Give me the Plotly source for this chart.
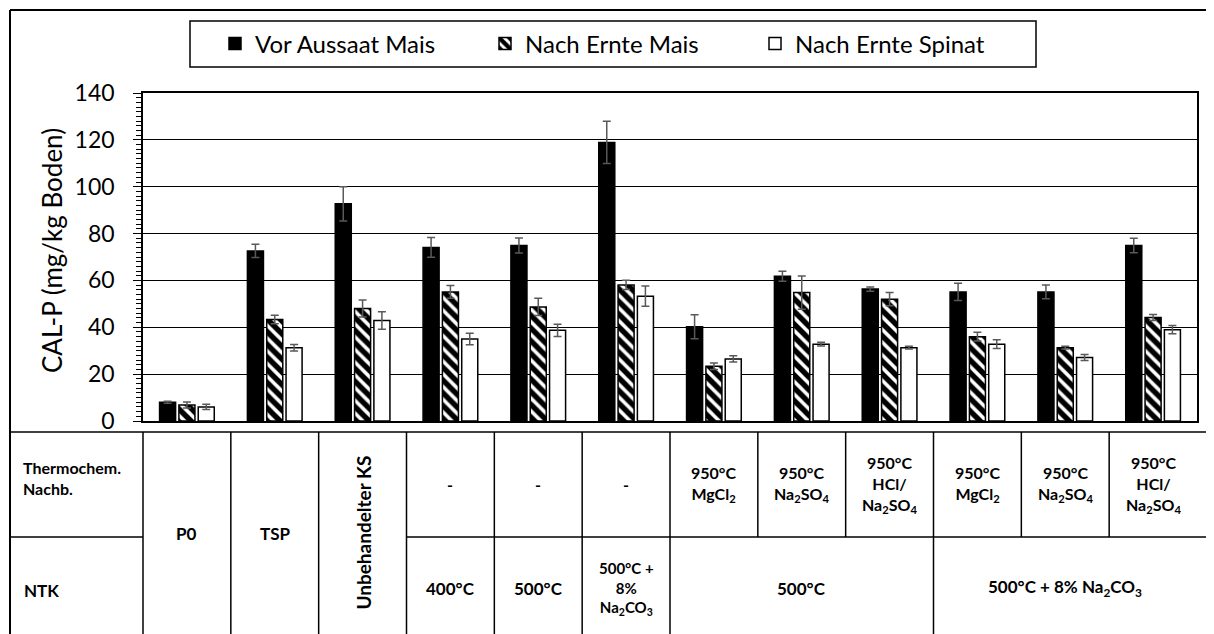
import plotly.graph_objects as go

# ---------------- data ----------------
groups = ["P0", "TSP", "Unbehandelter KS", "400°C", "500°C", "500°C + 8% Na2CO3",
          "500°C / MgCl2", "500°C / Na2SO4", "500°C / HCl/Na2SO4",
          "500°C+8% / MgCl2", "500°C+8% / Na2SO4", "500°C+8% / HCl/Na2SO4"]

vor_aussaat_mais = [8.0, 72.6, 92.7, 74.1, 74.9, 118.9, 40.2, 61.8, 56.3, 55.1, 55.1, 74.9]
vor_aussaat_err  = [0.4, 2.8, 7.3, 4.2, 3.2, 9.0, 5.1, 2.1, 0.9, 3.7, 2.9, 3.1]
nach_ernte_mais  = [6.8, 43.3, 48.0, 55.1, 48.7, 58.1, 23.4, 54.8, 52.0, 36.0, 31.3, 44.2]
nach_mais_err    = [1.3, 1.8, 3.6, 2.7, 3.7, 2.0, 1.4, 7.1, 2.8, 1.9, 0.6, 1.3]
nach_ernte_spin  = [6.0, 31.3, 42.9, 35.0, 38.7, 53.3, 26.5, 32.8, 31.3, 32.8, 27.1, 39.0]
nach_spin_err    = [1.1, 1.4, 3.7, 2.5, 2.6, 4.3, 1.3, 0.8, 0.6, 1.9, 1.3, 1.8]

series_names = ["Vor Aussaat Mais", "Nach Ernte Mais", "Nach Ernte Spinat"]
y_ticks = [0, 20, 40, 60, 80, 100, 120, 140]

# table texts
row_labels = ["Thermochem.<br>Nachb.", "NTK"]
merged_cells = ["P0", "TSP", "Unbehandelter KS"]          # groups 0..2, both rows
thermochem_row = ["-", "-", "-",
                  "950°C<br>MgCl<sub>2</sub>", "950°C<br>Na<sub>2</sub>SO<sub>4</sub>",
                  "950°C<br>HCl/<br>Na<sub>2</sub>SO<sub>4</sub>",
                  "950°C<br>MgCl<sub>2</sub>", "950°C<br>Na<sub>2</sub>SO<sub>4</sub>",
                  "950°C<br>HCl/<br>Na<sub>2</sub>SO<sub>4</sub>"]     # groups 3..11
ntk_row = ["400°C", "500°C", "500°C +<br>8%<br>Na<sub>2</sub>CO<sub>3</sub>",
           "500°C", "500°C + 8% Na<sub>2</sub>CO<sub>3</sub>"]
ntk_spans = [(3, 3), (4, 4), (5, 5), (6, 8), (9, 11)]

# ---------------- geometry helpers (page pixel coords -> paper) ----------------
OFF = 8                      # page body margin
W, H = 1206, 626
L, R, T, B = 135, 17, 85, 213
PW, PH = W - L - R, H - T - B
NG = len(groups)


def px(X):
    return (X - OFF - L) / PW


def py(Y):
    return (H - B - (Y - OFF)) / PH


def gx(k):  # page x of boundary before group k
    return OFF + L + k * PW / NG


FONT = "Lato, Open Sans, sans-serif"

fig = go.Figure()
fig.add_bar(x=groups, y=vor_aussaat_mais, name=series_names[0],
            marker=dict(color="black", line=dict(color="black", width=1.5)),
            error_y=dict(type="data", array=vor_aussaat_err, color="#595959",
                         thickness=1.5, width=4))
fig.add_bar(x=groups, y=nach_ernte_mais, name=series_names[1],
            marker=dict(color="white", line=dict(color="black", width=1.5),
                        pattern=dict(shape="\\", fgcolor="black", bgcolor="white",
                                     fgopacity=1, fillmode="replace",
                                     size=9, solidity=0.6)),
            error_y=dict(type="data", array=nach_mais_err, color="#595959",
                         thickness=1.5, width=4))
fig.add_bar(x=groups, y=nach_ernte_spin, name=series_names[2],
            marker=dict(color="white", line=dict(color="black", width=1.5)),
            error_y=dict(type="data", array=nach_spin_err, color="#595959",
                         thickness=1.5, width=4))

shapes = []
LINE = dict(color="black", width=1.5)
RIGHT, BOTTOM = 1220, 640
# outer border
shapes.append(dict(type="line", xref="paper", yref="paper", x0=px(10), x1=px(RIGHT),
                   y0=py(10), y1=py(10), line=dict(color="black", width=2)))
shapes.append(dict(type="line", xref="paper", yref="paper", x0=px(10), x1=px(10),
                   y0=py(10), y1=py(BOTTOM), line=dict(color="black", width=2)))
# legend box
shapes.append(dict(type="rect", xref="paper", yref="paper", x0=px(190), x1=px(1036),
                   y0=py(21), y1=py(67), line=LINE))
# table
TT, TM = 432, 537
shapes.append(dict(type="line", xref="paper", yref="paper", x0=px(10), x1=px(RIGHT),
                   y0=py(TT), y1=py(TT), line=LINE))
shapes.append(dict(type="line", xref="paper", yref="paper", x0=px(10), x1=px(gx(0)),
                   y0=py(TM), y1=py(TM), line=LINE))
shapes.append(dict(type="line", xref="paper", yref="paper", x0=px(gx(3)), x1=px(RIGHT),
                   y0=py(TM), y1=py(TM), line=LINE))
shapes.append(dict(type="line", xref="paper", yref="paper", x0=px(gx(0)), x1=px(gx(0)),
                   y0=py(TT), y1=py(BOTTOM), line=LINE))
full_bounds = [1, 2, 3, 4, 5, 6, 9]
top_bounds = [7, 8, 10, 11]
for k in full_bounds:
    shapes.append(dict(type="line", xref="paper", yref="paper", x0=px(gx(k)), x1=px(gx(k)),
                       y0=py(TT), y1=py(BOTTOM), line=LINE))
for k in top_bounds:
    shapes.append(dict(type="line", xref="paper", yref="paper", x0=px(gx(k)), x1=px(gx(k)),
                       y0=py(TT), y1=py(TM), line=LINE))

ann = []
ann.append(dict(text="<b>" + row_labels[0] + "</b>", x=px(21), y=py(478), xref="paper",
                yref="paper", xanchor="left", yanchor="middle", showarrow=False,
                align="left", font=dict(family=FONT, size=16, color="black")))
ann.append(dict(text="<b>" + row_labels[1] + "</b>", x=px(22), y=py(590), xref="paper",
                yref="paper", xanchor="left", yanchor="middle", showarrow=False,
                align="left", font=dict(family=FONT, size=17, color="black")))
for i, t in enumerate(merged_cells):
    cx = (gx(i) + gx(i + 1)) / 2
    ann.append(dict(text="<b>" + t + "</b>", x=px(cx), y=py(533), xref="paper", yref="paper",
                    xanchor="center", yanchor="middle", showarrow=False,
                    textangle=-90 if i == 2 else 0,
                    font=dict(family=FONT, size=19 if i == 2 else 17, color="black")))
for j, t in enumerate(thermochem_row):
    k = j + 3
    cx = (gx(k) + gx(k + 1)) / 2
    ann.append(dict(text="<b>" + t + "</b>", x=px(cx), y=py(484), xref="paper", yref="paper",
                    xanchor="center", yanchor="middle", showarrow=False, align="center",
                    font=dict(family=FONT, size=16, color="black")))
for t, (a, b) in zip(ntk_row, ntk_spans):
    cx = (gx(a) + gx(b + 1)) / 2
    ann.append(dict(text="<b>" + t + "</b>", x=px(cx), y=py(588), xref="paper", yref="paper",
                    xanchor="center", yanchor="middle", showarrow=False, align="center",
                    font=dict(family=FONT, size=17 if "<br>" not in t else 15, color="black")))
# y axis title
ann.append(dict(text="CAL-P (mg/kg Boden)", x=px(52), y=py(251), xref="paper", yref="paper",
                xanchor="center", yanchor="middle", showarrow=False, textangle=-90,
                font=dict(family=FONT, size=26, color="black")))

fig.update_layout(
    width=W, height=H,
    margin=dict(l=L, r=R, t=T, b=B, autoexpand=False),
    paper_bgcolor="white", plot_bgcolor="white",
    barmode="group", bargap=0.34, bargroupgap=0.17,
    font=dict(family=FONT, color="black"),
    showlegend=True,
    legend=dict(orientation="h", x=px(215), xanchor="left", y=py(44), yanchor="middle",
                font=dict(family=FONT, size=24, color="black"),
                bgcolor="rgba(0,0,0,0)", borderwidth=0, traceorder="normal",
                entrywidth=225, entrywidthmode="pixels"),
    xaxis=dict(type="category", range=[-0.5, NG - 0.5], showticklabels=False, ticks="",
               showline=True, linecolor="black", linewidth=1.5, mirror=True,
               showgrid=False, zeroline=False, fixedrange=True),
    yaxis=dict(range=[0, 140], tickvals=y_ticks, showgrid=True, gridcolor="black",
               gridwidth=1.3, showline=True, linecolor="black", linewidth=1.5, mirror=True,
               ticks="outside", ticklen=8, tickwidth=1.3, tickcolor="black",
               minor=dict(dtick=2, ticks="outside", ticklen=5, tickwidth=1,
                          tickcolor="black", showgrid=False),
               tickfont=dict(family=FONT, size=23, color="black"),
               ticklabelstandoff=14, zeroline=False, automargin=False),
    shapes=shapes, annotations=ann,
)

fig.write_html("out.html")
